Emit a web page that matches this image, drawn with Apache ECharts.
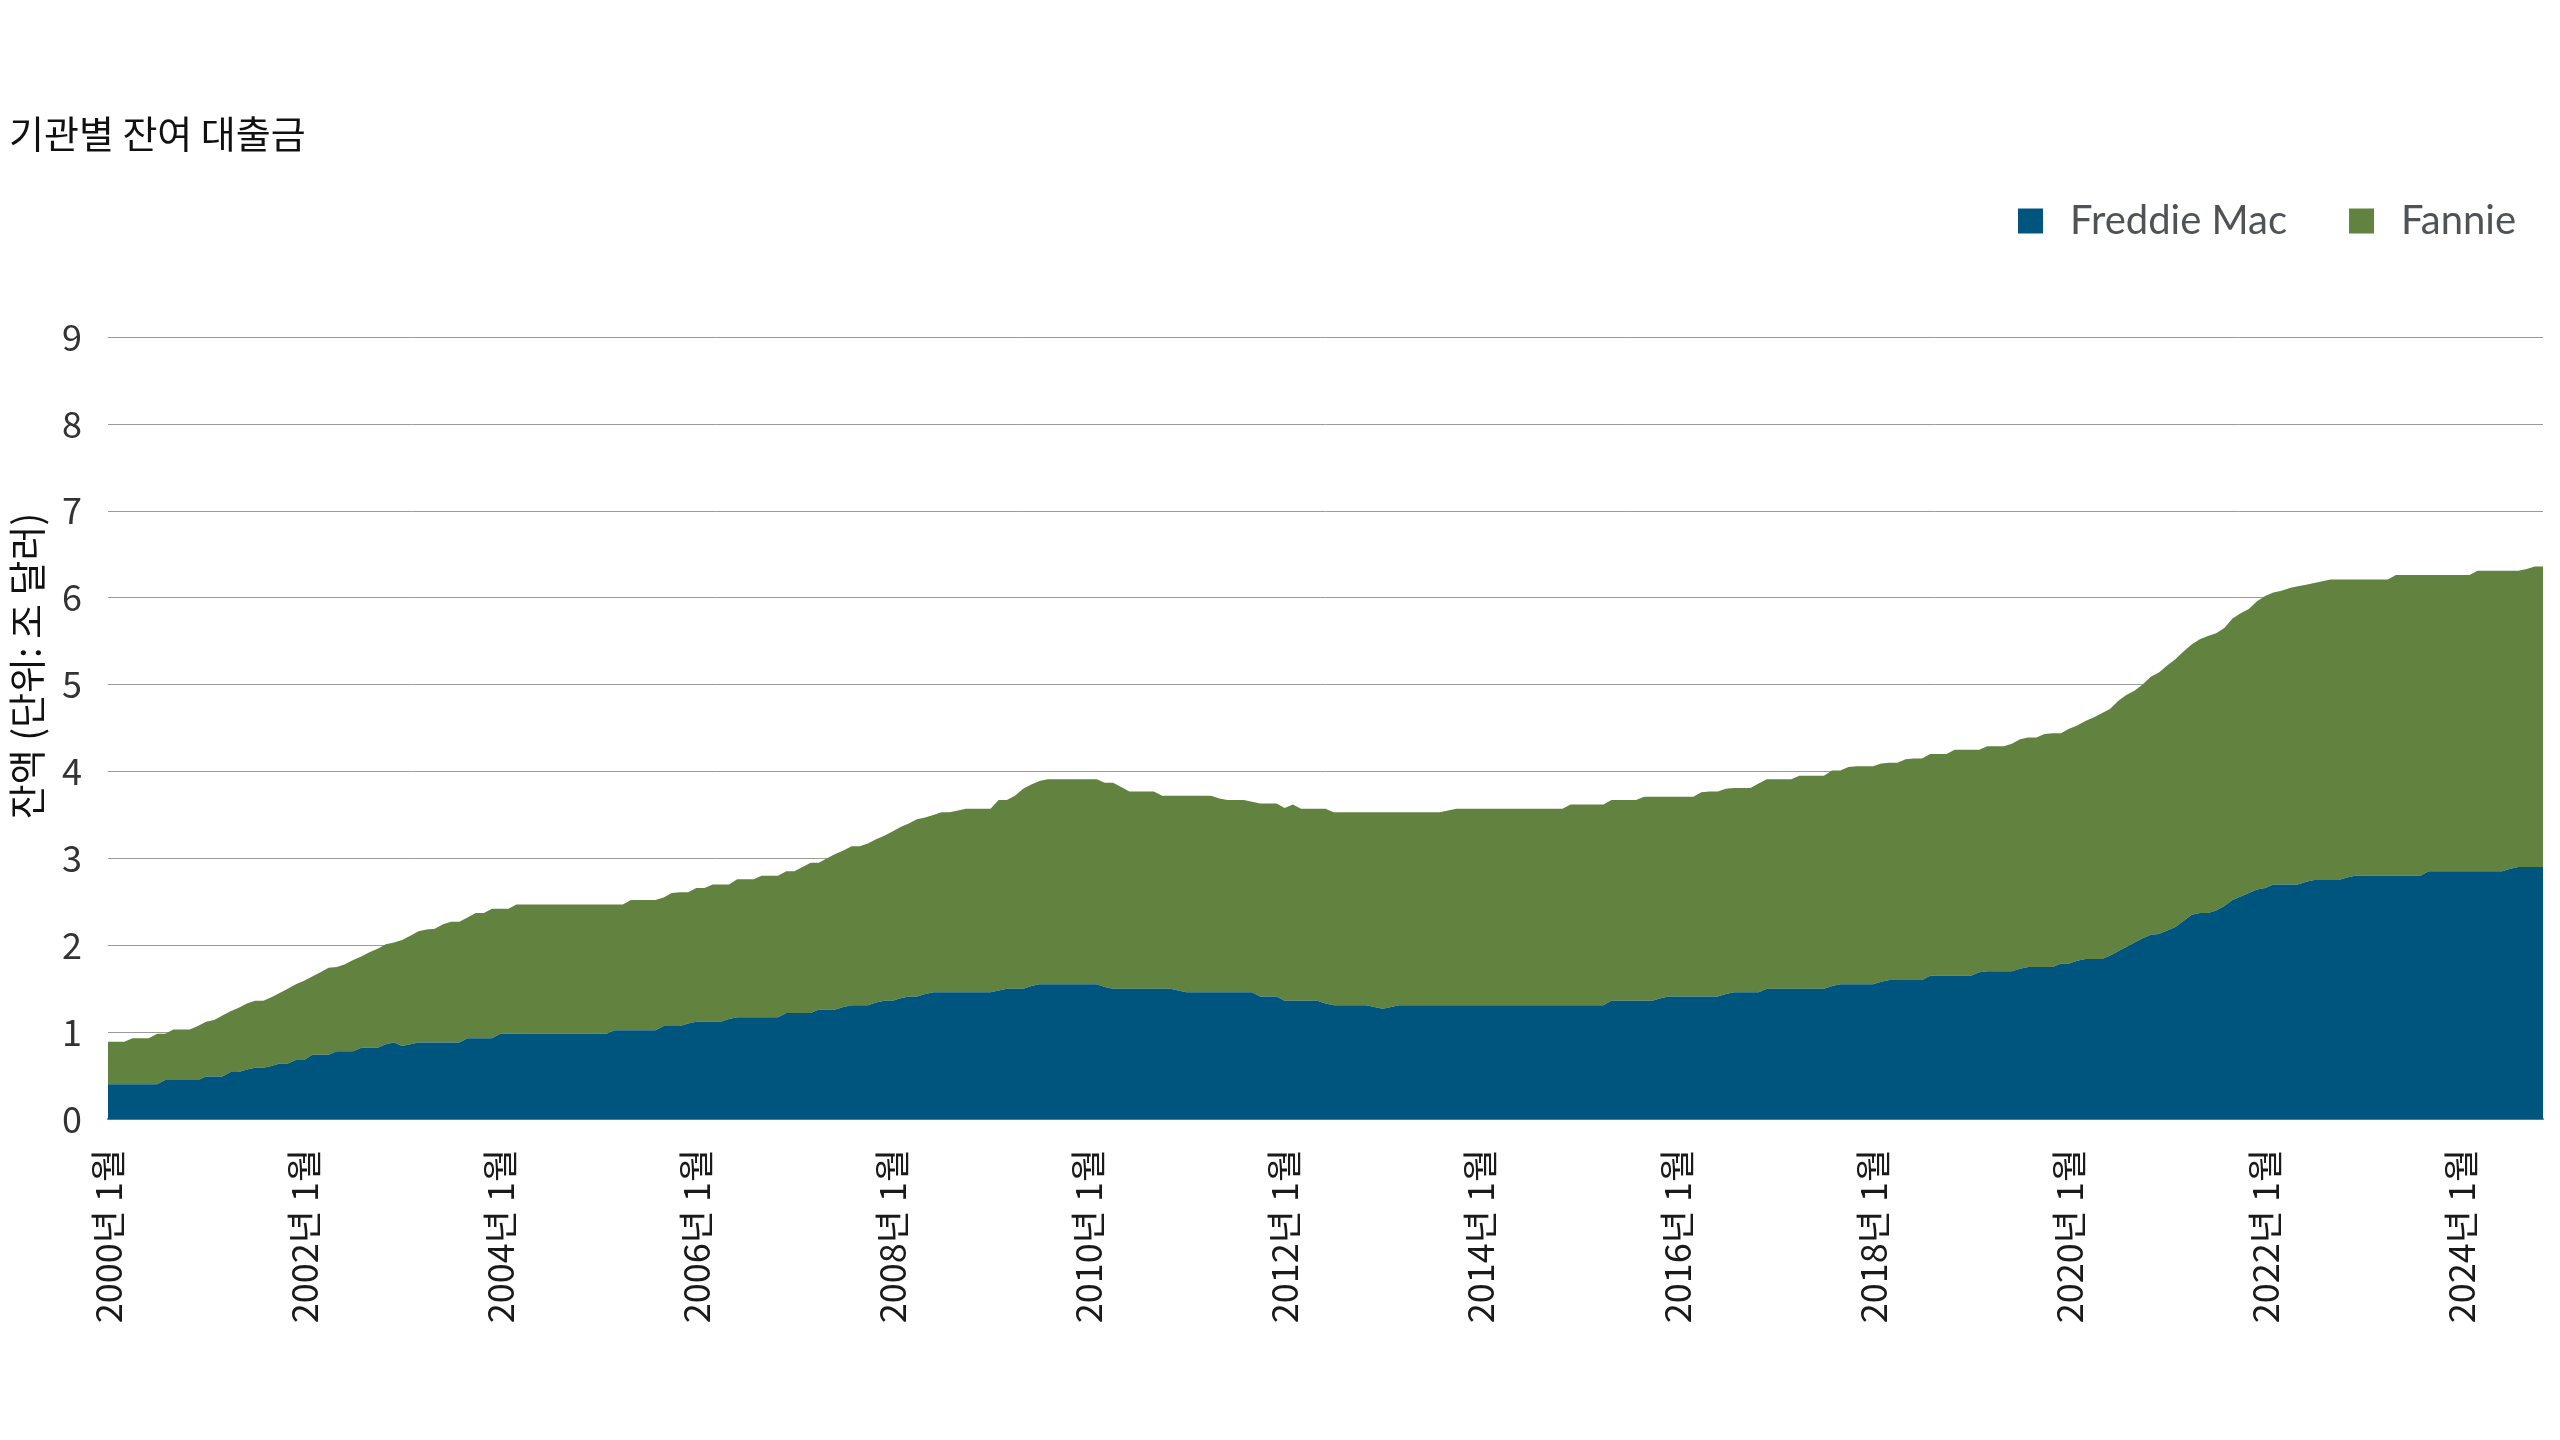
<!DOCTYPE html>
<html>
<head>
<meta charset="utf-8">
<script src="https://cdn.jsdelivr.net/npm/echarts@6/dist/echarts.min.js"></script>
<style>
html,body{margin:0;padding:0;background:#fff;}
#chart{width:2560px;height:1440px;}
</style>
</head>
<body>
<div id="chart"></div>
<script>
// Monthly categories: Jan 2000 .. Nov 2024
const startYear = 2000;
const monthCount = 299;
const categories = [];
for (let i = 0; i < monthCount; i++) {
  const y = startYear + Math.floor(i / 12);
  const m = (i % 12) + 1;
  categories.push(y + '년 ' + m + '월');
}

const seriesNames = ['Freddie Mac', 'Fannie'];
const yTicks = { min: 0, max: 9, interval: 1 };

// Freddie Mac outstanding (trillion USD), monthly
const freddieMac = [
  0.40,0.40,0.40,0.40,0.40,0.40,0.40,0.45,0.45,0.45,0.45,0.45, // 2000
  0.49,0.49,0.49,0.54,0.54,0.57,0.59,0.59,0.61,0.64,0.64,0.68, // 2001
  0.68,0.74,0.74,0.74,0.78,0.78,0.78,0.82,0.82,0.82,0.86,0.88, // 2002
  0.84,0.86,0.88,0.88,0.88,0.88,0.88,0.88,0.93,0.93,0.93,0.93, // 2003
  0.98,0.98,0.98,0.98,0.98,0.98,0.98,0.98,0.98,0.98,0.98,0.98, // 2004
  0.98,0.98,1.02,1.02,1.02,1.02,1.02,1.02,1.07,1.07,1.07,1.10, // 2005
  1.12,1.12,1.12,1.12,1.15,1.17,1.17,1.17,1.17,1.17,1.17,1.22, // 2006
  1.22,1.22,1.22,1.26,1.26,1.26,1.29,1.31,1.31,1.31,1.34,1.36, // 2007
  1.36,1.39,1.41,1.41,1.44,1.46,1.46,1.46,1.46,1.46,1.46,1.46, // 2008
  1.46,1.48,1.50,1.50,1.50,1.53,1.55,1.55,1.55,1.55,1.55,1.55, // 2009
  1.55,1.55,1.52,1.50,1.50,1.50,1.50,1.50,1.50,1.50,1.50,1.48, // 2010
  1.46,1.46,1.46,1.46,1.46,1.46,1.46,1.46,1.46,1.41,1.41,1.41, // 2011
  1.36,1.36,1.36,1.36,1.36,1.33,1.31,1.31,1.31,1.31,1.31,1.29, // 2012
  1.27,1.29,1.31,1.31,1.31,1.31,1.31,1.31,1.31,1.31,1.31,1.31, // 2013
  1.31,1.31,1.31,1.31,1.31,1.31,1.31,1.31,1.31,1.31,1.31,1.31, // 2014
  1.31,1.31,1.31,1.31,1.36,1.36,1.36,1.36,1.36,1.36,1.39,1.41, // 2015
  1.41,1.41,1.41,1.41,1.41,1.41,1.44,1.46,1.46,1.46,1.46,1.50, // 2016
  1.50,1.50,1.50,1.50,1.50,1.50,1.50,1.53,1.55,1.55,1.55,1.55, // 2017
  1.55,1.58,1.60,1.60,1.60,1.60,1.60,1.65,1.65,1.65,1.65,1.65, // 2018
  1.65,1.69,1.70,1.70,1.70,1.70,1.73,1.75,1.75,1.75,1.75,1.79, // 2019
  1.79,1.82,1.84,1.84,1.84,1.88,1.93,1.98,2.03,2.08,2.12,2.13, // 2020
  2.17,2.21,2.28,2.35,2.37,2.37,2.40,2.45,2.52,2.56,2.60,2.64, // 2021
  2.66,2.70,2.70,2.70,2.70,2.73,2.75,2.75,2.75,2.75,2.78,2.80, // 2022
  2.80,2.80,2.80,2.80,2.80,2.80,2.80,2.80,2.85,2.85,2.85,2.85, // 2023
  2.85,2.85,2.85,2.85,2.85,2.85,2.88,2.90,2.90,2.90,2.90       // 2024
];

// Fannie Mae outstanding (trillion USD), monthly
const fannie = [
  0.49,0.49,0.49,0.53,0.53,0.53,0.58,0.53,0.58,0.58,0.58,0.62, // 2000
  0.63,0.65,0.70,0.70,0.74,0.76,0.77,0.77,0.79,0.81,0.86,0.87, // 2001
  0.91,0.90,0.95,1.00,0.97,1.00,1.05,1.05,1.10,1.14,1.15,1.15, // 2002
  1.22,1.25,1.28,1.30,1.31,1.36,1.39,1.39,1.39,1.44,1.44,1.49, // 2003
  1.44,1.44,1.49,1.49,1.49,1.49,1.49,1.49,1.49,1.49,1.49,1.49, // 2004
  1.49,1.49,1.45,1.45,1.50,1.50,1.50,1.50,1.48,1.53,1.54,1.51, // 2005
  1.54,1.54,1.58,1.58,1.55,1.59,1.59,1.59,1.63,1.63,1.63,1.63, // 2006
  1.63,1.68,1.73,1.69,1.74,1.79,1.80,1.83,1.83,1.86,1.88,1.90, // 2007
  1.95,1.97,1.99,2.04,2.03,2.04,2.07,2.07,2.09,2.11,2.11,2.11, // 2008
  2.11,2.19,2.17,2.22,2.30,2.32,2.34,2.36,2.36,2.36,2.36,2.36, // 2009
  2.36,2.36,2.35,2.37,2.32,2.27,2.27,2.27,2.27,2.22,2.22,2.24, // 2010
  2.26,2.26,2.26,2.26,2.23,2.21,2.21,2.21,2.19,2.22,2.22,2.22, // 2011
  2.22,2.26,2.21,2.21,2.21,2.24,2.22,2.22,2.22,2.22,2.22,2.24, // 2012
  2.26,2.24,2.22,2.22,2.22,2.22,2.22,2.22,2.24,2.26,2.26,2.26, // 2013
  2.26,2.26,2.26,2.26,2.26,2.26,2.26,2.26,2.26,2.26,2.26,2.31, // 2014
  2.31,2.31,2.31,2.31,2.31,2.31,2.31,2.31,2.35,2.35,2.32,2.30, // 2015
  2.30,2.30,2.30,2.35,2.36,2.36,2.36,2.35,2.35,2.35,2.40,2.41, // 2016
  2.41,2.41,2.41,2.45,2.45,2.45,2.45,2.48,2.46,2.50,2.51,2.51, // 2017
  2.51,2.51,2.50,2.50,2.54,2.55,2.55,2.55,2.55,2.55,2.60,2.60, // 2018
  2.60,2.56,2.59,2.59,2.59,2.62,2.64,2.64,2.64,2.68,2.69,2.65, // 2019
  2.70,2.71,2.74,2.78,2.83,2.84,2.88,2.90,2.90,2.92,2.97,3.01, // 2020
  3.05,3.08,3.10,3.11,3.15,3.19,3.19,3.20,3.24,3.26,3.27,3.32, // 2021
  3.36,3.36,3.38,3.41,3.43,3.42,3.42,3.44,3.46,3.46,3.43,3.41, // 2022
  3.41,3.41,3.41,3.41,3.46,3.46,3.46,3.46,3.41,3.41,3.41,3.41, // 2023
  3.41,3.41,3.46,3.46,3.46,3.46,3.43,3.41,3.43,3.46,3.46       // 2024
];

const titleText = '기관별 잔여 대출금';
const yAxisTitle = '잔액 (단위: 조 달러)';
const colors = ['#00557f', '#62823f'];
const cjk = '"Noto Sans CJK KR", "Noto Sans", sans-serif';

const chart = echarts.init(document.getElementById('chart'), null, { renderer: 'canvas' });
chart.setOption({
  animation: false,
  backgroundColor: '#ffffff',
  color: colors,
  title: {
    text: titleText,
    left: 4,
    top: 110,
    textStyle: { fontFamily: cjk, fontSize: 38, fontWeight: 'normal', color: '#111111' }
  },
  legend: {
    data: seriesNames,
    left: 2013,
    top: 196,
    icon: 'rect',
    itemWidth: 25,
    itemHeight: 25,
    itemGap: 62,
    textStyle: { fontFamily: 'Lato, "Noto Sans", sans-serif', fontSize: 40, color: '#4f5357', padding: [0, 0, 0, 22] }
  },
  graphic: [{
    type: 'text',
    x: 27,
    y: 666,
    rotation: Math.PI / 2,
    style: {
      text: yAxisTitle,
      font: '38px "Noto Sans CJK KR", sans-serif',
      fill: '#111111',
      textAlign: 'center',
      textVerticalAlign: 'middle'
    }
  }],
  grid: { left: 108, right: 17, top: 337, bottom: 321, containLabel: false },
  xAxis: {
    type: 'category',
    data: categories,
    boundaryGap: false,
    axisLine: { show: true, lineStyle: { color: '#6f7378', width: 2 } },
    axisTick: { show: false },
    axisLabel: {
      interval: 23,
      rotate: 90,
      margin: 30,
      fontFamily: cjk,
      fontSize: 36,
      color: '#1a1a1a'
    },
    splitLine: { show: false }
  },
  yAxis: {
    type: 'value',
    min: yTicks.min,
    max: yTicks.max,
    interval: yTicks.interval,
    axisLine: { show: false },
    axisTick: { show: false },
    axisLabel: { fontFamily: cjk, fontSize: 36, color: '#333333', margin: 26 },
    splitLine: { show: true, lineStyle: { color: '#9a9a9a', width: 1 } }
  },
  series: [
    {
      name: seriesNames[0],
      type: 'line',
      stack: 'total',
      data: freddieMac,
      symbol: 'none',
      lineStyle: { width: 0 },
      areaStyle: { color: colors[0], opacity: 1 },
      z: 3
    },
    {
      name: seriesNames[1],
      type: 'line',
      stack: 'total',
      data: fannie,
      symbol: 'none',
      lineStyle: { width: 0 },
      areaStyle: { color: colors[1], opacity: 1 },
      z: 2
    }
  ]
});
</script>
</body>
</html>
